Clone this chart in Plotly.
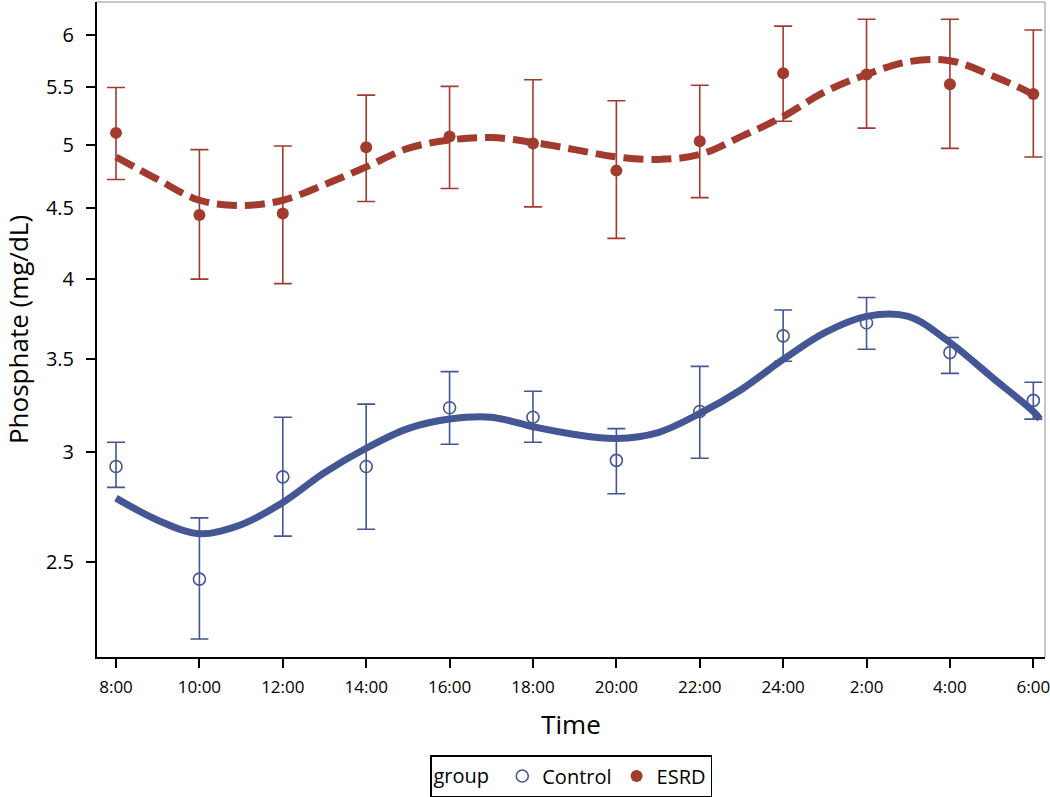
import plotly.graph_objects as go

# ---------------- data ----------------
time_labels = ["8:00", "10:00", "12:00", "14:00", "16:00", "18:00",
               "20:00", "22:00", "24:00", "2:00", "4:00", "6:00"]

control_mean = [2.93, 2.43, 2.88, 2.93, 3.23, 3.18, 2.96, 3.21, 3.64, 3.72, 3.54, 3.27]
control_upper = [3.05, 2.69, 3.18, 3.25, 3.43, 3.32, 3.12, 3.46, 3.80, 3.88, 3.63, 3.37]
control_lower = [2.83, 2.20, 2.61, 2.64, 3.04, 3.05, 2.80, 2.97, 3.49, 3.56, 3.42, 3.17]

esrd_mean = [5.10, 4.45, 4.46, 4.98, 5.07, 5.01, 4.79, 5.03, 5.63, 5.62, 5.53, 5.44]
esrd_upper = [5.50, 4.96, 4.99, 5.43, 5.51, 5.57, 5.38, 5.52, 6.09, 6.16, 6.16, 6.05]
esrd_lower = [4.72, 4.00, 3.97, 4.55, 4.65, 4.51, 4.28, 4.58, 5.20, 5.14, 4.97, 4.90]

# fitted curves, sampled every hour (index units: one step = 2 hours)
curve_index = [0, 0.5, 1, 1.5, 2, 2.5, 3, 3.5, 4, 4.5, 5, 5.5, 6, 6.5,
               7, 7.5, 8, 8.5, 9, 9.5, 10, 10.5, 11, 11.08]
control_fit = [2.78, 2.68, 2.62, 2.66, 2.76, 2.90, 3.02, 3.12, 3.17, 3.18, 3.13, 3.09,
               3.07, 3.10, 3.20, 3.33, 3.50, 3.66, 3.76, 3.76, 3.60, 3.40, 3.21, 3.17]
esrd_fit = [4.90, 4.72, 4.56, 4.52, 4.56, 4.68, 4.82, 4.97, 5.04, 5.06, 5.02, 4.96,
            4.90, 4.88, 4.92, 5.07, 5.24, 5.46, 5.62, 5.74, 5.75, 5.61, 5.43, 5.37]

y_ticks = [2.5, 3, 3.5, 4, 4.5, 5, 5.5, 6]

# ---------------- style ----------------
BLUE = "#445694"
RED = "#A23A2E"
FONT = "Open Sans"

x_idx = list(range(len(time_labels)))

fig = go.Figure()

fig.add_trace(go.Scatter(
    x=x_idx, y=control_mean, mode="markers", name="Control",
    marker=dict(symbol="circle-open", size=12, color=BLUE, line=dict(width=1.6, color=BLUE)),
    error_y=dict(type="data", symmetric=False,
                 array=[u - m for u, m in zip(control_upper, control_mean)],
                 arrayminus=[m - l for m, l in zip(control_mean, control_lower)],
                 color=BLUE, thickness=1.6, width=9),
))
fig.add_trace(go.Scatter(
    x=x_idx, y=esrd_mean, mode="markers", name="ESRD",
    marker=dict(symbol="circle", size=12, color=RED),
    error_y=dict(type="data", symmetric=False,
                 array=[u - m for u, m in zip(esrd_upper, esrd_mean)],
                 arrayminus=[m - l for m, l in zip(esrd_mean, esrd_lower)],
                 color=RED, thickness=1.6, width=9),
))
fig.add_trace(go.Scatter(
    x=curve_index, y=control_fit, mode="lines", showlegend=False, hoverinfo="skip",
    line=dict(color=BLUE, width=7, shape="spline", smoothing=1.0),
))
fig.add_trace(go.Scatter(
    x=curve_index, y=esrd_fit, mode="lines", showlegend=False, hoverinfo="skip",
    line=dict(color=RED, width=7, shape="spline", smoothing=1.0, dash="20px,8px"),
))

W, H = 1050, 797
ml, mr, mt, mb = 97, 5, 2, 140

fig.update_layout(
    width=W, height=H,
    margin=dict(l=ml, r=mr, t=mt, b=mb, autoexpand=False),
    plot_bgcolor="white", paper_bgcolor="white",
    font=dict(family=FONT, color="black", size=20),
    showlegend=True,
    legend=dict(
        orientation="h", xref="paper", yref="container",
        x=0.5, xanchor="center", y=1 - 776 / H, yanchor="middle",
        title=dict(text="group ", side="left", font=dict(size=20)),
        font=dict(size=20), bordercolor="black", borderwidth=1.5,
        bgcolor="white", itemwidth=30,
    ),
    xaxis=dict(
        range=[-0.228, 11.14], tickmode="array", tickvals=x_idx, ticktext=time_labels,
        showgrid=False, zeroline=False, showline=True, linecolor="black", linewidth=2,
        ticks="outside", ticklen=9, tickwidth=1.5, tickcolor="black",
        tickfont=dict(size=17), ticklabelstandoff=5, ticklabeloverflow="allow",
        automargin=False,
        title=dict(text="Time", font=dict(size=26), standoff=18),
    ),
    yaxis=dict(
        type="log", range=[0.3294, 0.802], tickmode="array", tickvals=y_ticks,
        ticktext=[f"{v:g}" for v in y_ticks],
        showgrid=False, zeroline=False, showline=True, linecolor="black", linewidth=2,
        ticks="outside", ticklen=9, tickwidth=1.5, tickcolor="black",
        tickfont=dict(size=20), ticklabelstandoff=8,
        automargin=False,
        title=dict(text="Phosphate (mg/dL)", font=dict(size=26), standoff=14),
    ),
    shapes=[
        dict(type="line", xref="paper", yref="paper", x0=0, x1=1, y0=1, y1=1,
             line=dict(color="#b5b5b5", width=1.5)),
        dict(type="line", xref="paper", yref="paper", x0=1, x1=1, y0=0, y1=1,
             line=dict(color="#b5b5b5", width=1.5)),
    ],
)

fig.write_html(
    "out.html",
    config={"displayModeBar": False},
    post_script="document.body.style.margin='0';document.body.style.overflow='hidden';",
)
